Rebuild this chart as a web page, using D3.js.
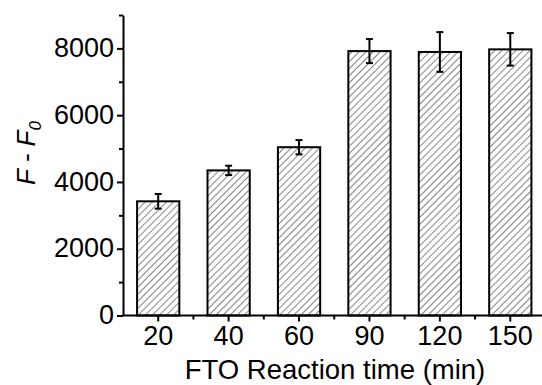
<!DOCTYPE html>
<html><head><meta charset="utf-8">
<script src="https://cdn.jsdelivr.net/npm/d3@7"></script>
<style>body{margin:0;background:#fff}svg{display:block}text{font-family:"Liberation Sans",Arial,sans-serif}</style>
</head><body>
<svg id="c" width="542" height="385"></svg>
<script>
const categories = ["20","40","60","90","120","150"];
const values = [3420, 4346, 5040, 7919, 7893, 7971];
const errors = [220, 140, 214, 360, 595, 487];
const yTicks = [0, 2000, 4000, 6000, 8000];
const yMinor = [1000, 3000, 5000, 7000, 9000];

const svg = d3.select("#c");
const x0 = 123, x1 = 545.5, yBottom = 315.5, yTop = 15;
const x = d3.scaleBand().domain(categories).range([x0, x1]).paddingInner(0.4).paddingOuter(0.2);
const y = d3.scaleLinear().domain([0, 9000]).range([yBottom, yTop]);

const defs = svg.append("defs");
const pat = defs.append("pattern").attr("id","hatch").attr("patternUnits","userSpaceOnUse")
  .attr("width",5).attr("height",5).attr("patternTransform","rotate(45)");
pat.append("rect").attr("width",5).attr("height",5).attr("fill","#fff");
pat.append("line").attr("x1",0.5).attr("y1",0).attr("x2",0.5).attr("y2",5)
  .attr("stroke","#666").attr("stroke-width",0.8);

// bars
svg.selectAll("rect.bar").data(categories).join("rect").attr("class","bar")
  .attr("x", d => x(d)).attr("width", x.bandwidth())
  .attr("y", (d,i) => y(values[i])).attr("height", (d,i) => yBottom - y(values[i]))
  .attr("fill","url(#hatch)").attr("stroke","#000").attr("stroke-width",2);

// error bars
const eb = svg.append("g").attr("stroke","#000").attr("stroke-width",2);
categories.forEach((c,i) => {
  const cx = x(c) + x.bandwidth()/2;
  eb.append("line").attr("x1",cx).attr("x2",cx).attr("y1",y(values[i]+errors[i])).attr("y2",y(values[i]-errors[i]));
  [values[i]+errors[i], values[i]-errors[i]].forEach(v => {
    eb.append("line").attr("x1",cx-3.5).attr("x2",cx+3.5).attr("y1",y(v)).attr("y2",y(v));
  });
});

// y axis
const yAxis = d3.axisLeft(y).tickValues(yTicks).tickFormat(d3.format("d")).tickSize(6).tickSizeOuter(0).tickPadding(3);
const gy = svg.append("g").attr("transform",`translate(${x0},0)`).call(yAxis);
gy.select(".domain").attr("stroke-width",2);
gy.selectAll(".tick line").attr("stroke-width",2);
gy.selectAll(".tick text").attr("font-size",27).attr("fill","#000").attr("dy","0.3em");
const gym = svg.append("g").attr("transform",`translate(${x0},0)`)
  .call(d3.axisLeft(y).tickValues(yMinor).tickSize(4).tickFormat(""));
gym.select(".domain").remove();
gym.selectAll(".tick line").attr("stroke-width",2);

// x axis
const xAxis = d3.axisBottom(x).tickSize(6).tickSizeOuter(0).tickPadding(4);
const gx = svg.append("g").attr("transform",`translate(0,${yBottom})`).call(xAxis);
gx.select(".domain").attr("stroke-width",2).attr("d",`M${x0-1},0H${x1}`);
gx.selectAll(".tick line").attr("stroke-width",2);
gx.selectAll(".tick text").attr("font-size",27).attr("fill","#000");
// minor x ticks between categories
const step = x.step();
const gxm = svg.append("g").attr("transform",`translate(0,${yBottom})`);
gxm.selectAll("line").data(categories.slice(1)).join("line")
  .attr("x1", d => x(d) - step*0.2).attr("x2", d => x(d) - step*0.2)
  .attr("y1",0).attr("y2",4).attr("stroke","#000").attr("stroke-width",2);

// titles
svg.append("text").attr("x",335).attr("y",379).attr("text-anchor","middle")
  .attr("font-size",27.5).text("FTO Reaction time (min)");
const yt = svg.append("text").attr("transform","translate(35,153) rotate(-90)")
  .attr("text-anchor","middle").attr("font-size",26).attr("font-style","italic");
yt.append("tspan").text("F - F");
yt.append("tspan").attr("font-size",17).attr("dy",6).text("0");
</script>
</body></html>
